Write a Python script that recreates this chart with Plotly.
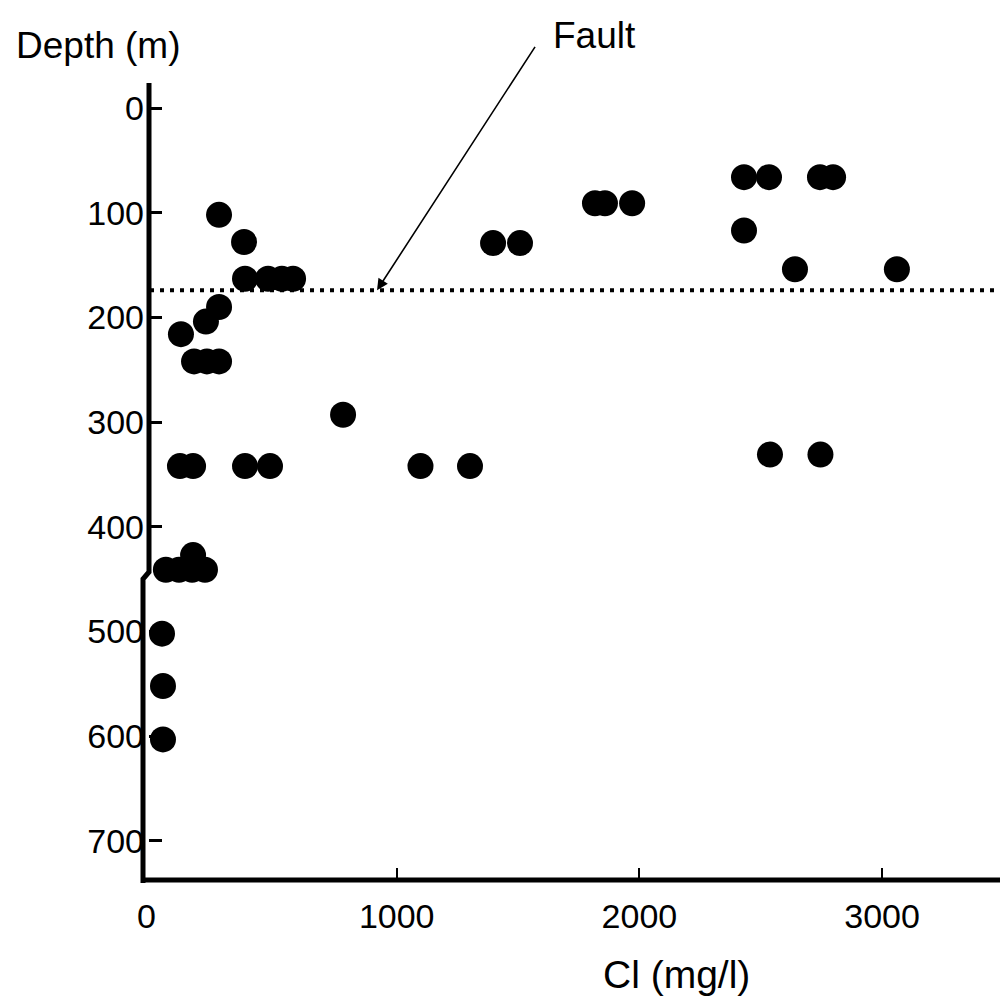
import plotly.graph_objects as go

# ---- data ----
cl_mg_l = [268, 371, 375, 470, 527, 573, 268, 214, 111, 165, 218, 268, 779,
           107, 161, 375, 478, 1098, 1302, 49, 103, 157, 210, 161, 33, 37, 37,
           1397, 1508, 1817, 1858, 1970, 2431, 2534, 2744, 2798, 2431, 2641,
           3061, 2538, 2746]
depth_m = [102, 128, 163, 163, 163, 163, 190, 204, 216, 242, 242, 242, 293,
           342, 342, 342, 342, 342, 342, 441, 441, 441, 441, 427, 502, 552, 603,
           129, 129, 91, 91, 91, 66, 66, 66, 66, 117, 154, 154, 331, 331]
fault_depth = 174
fault_arrow_cl = 919
x_ticks = [1000, 2000, 3000]
y_ticks = [0, 100, 200, 300, 400, 500, 600, 700]

FONT = "Liberation Sans, Arial, Helvetica, sans-serif"
L, R, T, B = 149, 0, 83, 120
W, H = 1000, 1000
PW, PH = W - L - R, H - T - B


def xp(px):
    return (px - L) / PW


def yp(py):
    return (H - B - py) / PH


fig = go.Figure()
fig.add_trace(go.Scatter(
    x=cl_mg_l, y=depth_m, mode="markers",
    marker=dict(size=26, color="black", line=dict(width=0)),
    showlegend=False, hoverinfo="x+y"))

# left axis (with the small jog) and bottom axis
fig.add_shape(type="path",
              path=f"M {xp(149)},{yp(83)} L {xp(149)},{yp(572)} L {xp(143)},{yp(579)} L {xp(143)},{yp(883)}",
              xref="paper", yref="paper", line=dict(color="black", width=5))
fig.add_shape(type="line", xref="paper", yref="paper",
              x0=xp(141), x1=1.0, y0=0, y1=0, line=dict(color="black", width=5))

# fault dotted line
fig.add_shape(type="line", xref="paper", yref="y", x0=xp(150), x1=1.0,
              y0=fault_depth, y1=fault_depth,
              line=dict(color="black", width=4, dash="4px,6px"))

fig.add_annotation(x=fault_arrow_cl, y=fault_depth, xref="x", yref="y",
                   text=" ", showarrow=True, ax=161, ay=-248,
                   arrowhead=2, arrowsize=1.4, arrowwidth=1.6,
                   arrowcolor="black", standoff=0)
fig.add_annotation(x=xp(594), y=yp(36), xref="paper", yref="paper",
                   text="Fault", showarrow=False, xanchor="center", yanchor="middle",
                   font=dict(family=FONT, size=37, color="black"))
fig.add_annotation(x=xp(98), y=yp(46), xref="paper", yref="paper",
                   text="Depth (m)", showarrow=False, xanchor="center", yanchor="middle",
                   font=dict(family=FONT, size=37, color="black"))
fig.add_annotation(x=xp(676), y=yp(975), xref="paper", yref="paper",
                   text="Cl (mg/l)", showarrow=False, xanchor="center", yanchor="middle",
                   font=dict(family=FONT, size=39, color="black"))
# "0" label at the origin of the Cl axis
fig.add_annotation(x=0, y=yp(916), xref="x", yref="paper", xshift=-8,
                   text="0", showarrow=False, xanchor="center", yanchor="middle",
                   font=dict(family=FONT, size=34, color="black"))

fig.update_xaxes(range=[-20.6, 3485.8], tickvals=x_ticks,
                 ticktext=[str(v) for v in x_ticks],
                 ticks="inside", ticklen=12, tickwidth=2, tickcolor="black",
                 showline=False, showgrid=False, zeroline=False,
                 ticklabelstandoff=13,
                 tickfont=dict(family=FONT, size=34, color="black"))
fig.update_yaxes(range=[737.3, -23.9], tickvals=y_ticks,
                 ticktext=[str(v) for v in y_ticks],
                 ticks="inside", ticklen=13, tickwidth=2.5, tickcolor="black",
                 showline=False, showgrid=False, zeroline=False,
                 ticklabelstandoff=4,
                 tickfont=dict(family=FONT, size=34, color="black"))

fig.update_layout(width=W, height=H, margin=dict(l=L, r=R, t=T, b=B),
                  plot_bgcolor="white", paper_bgcolor="white")

fig.write_html("out.html")
